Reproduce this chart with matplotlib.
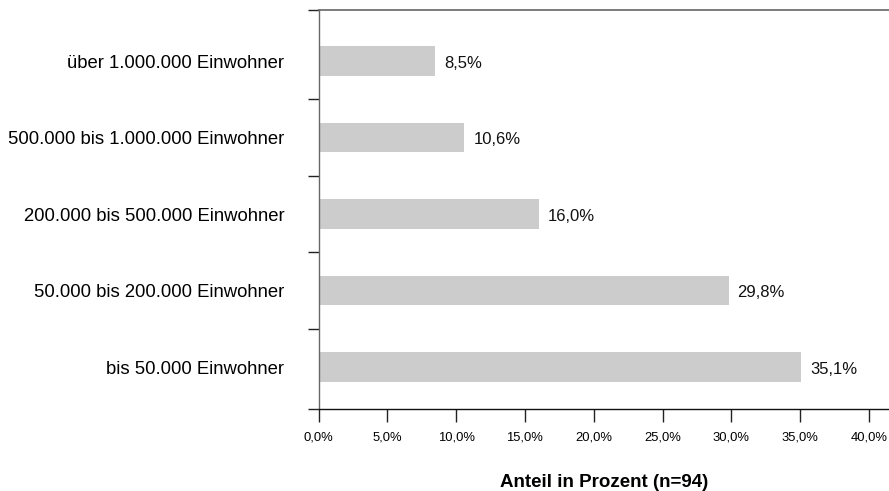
import matplotlib
matplotlib.use("Agg")
import matplotlib.pyplot as plt
import numpy as np

categories = ["bis 50.000 Einwohner", "50.000 bis 200.000 Einwohner",
              "200.000 bis 500.000 Einwohner", "500.000 bis 1.000.000 Einwohner",
              "über 1.000.000 Einwohner"]
values = [35.1, 29.8, 16.0, 10.6, 8.5]
xticks = [0, 5, 10, 15, 20, 25, 30, 35, 40]

plt.rcParams['font.family'] = ['Liberation Sans', 'DejaVu Sans']

fig = plt.figure(figsize=(8.89, 4.91), dpi=100)
ax = fig.add_axes([318.5/889, 82/491, 1 - 318.5/889, 399/491])

y = np.arange(len(categories))
ax.barh(y, values, height=0.39, color="#cccccc", zorder=2)
for yi, v in zip(y, values):
    ax.annotate(f"{v:.1f}".replace(".", ",") + "%", (v, yi), xytext=(9, -2),
                textcoords="offset pixels",
                ha="left", va="center", fontsize=12, color="#111111")

ylo, yhi = -0.549, 4.667
ax.set_ylim(ylo, yhi)
ax.set_xlim(0, 41.46)

ax.set_yticks([ylo, 0.5, 1.5, 2.5, 3.5, yhi])
ax.set_yticklabels([])
ax.tick_params(axis="y", which="major", direction="out", length=7.9, width=1.0, color="#222222")
ax.set_yticks(y, minor=True)
ax.set_yticklabels(categories, minor=True, fontsize=13.3)
ax.tick_params(axis="y", which="minor", length=0, pad=24.5)

ax.set_xticks(xticks)
ax.set_xticklabels([f"{t:.1f}".replace(".", ",") + "%" for t in xticks], fontsize=9.4)
ax.tick_params(axis="x", direction="out", length=9.2, width=1.0, color="#222222", pad=7)

ax.set_xlabel("Anteil in Prozent (n=94)", fontsize=13.5, fontweight="bold", labelpad=22)

ax.spines["right"].set_visible(False)
ax.spines["top"].set_color("#666666")
ax.spines["top"].set_linewidth(1.2)
ax.spines["left"].set_color("#666666")
ax.spines["left"].set_linewidth(1.0)
ax.spines["bottom"].set_color("#111111")
ax.spines["bottom"].set_linewidth(1.0)

fig.savefig("out.png", dpi=100)
